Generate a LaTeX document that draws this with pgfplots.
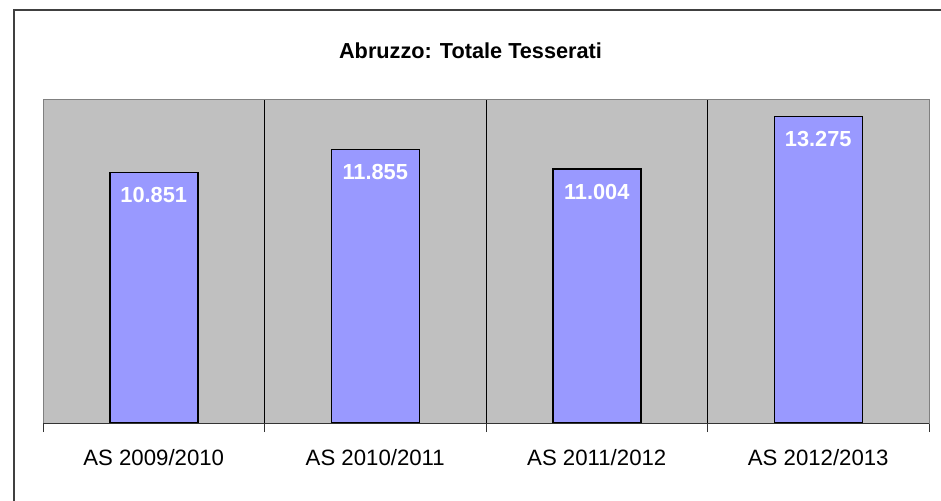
\documentclass[border=0pt]{standalone}
\usepackage{fontspec}
\setmainfont{Liberation Sans}
\usepackage{pgfplots}
\pgfplotsset{compat=1.18}
\definecolor{barblue}{HTML}{9999FF}
\definecolor{plotgray}{HTML}{C0C0C0}
\begin{document}
\begin{tikzpicture}[x=1pt,y=1pt]
\useasboundingbox (0,0) rectangle (941,500);
\draw[line width=1.3pt, black!75] (14,-5) -- (14,490) -- (946,490);
\node[font=\bfseries\fontsize{21.7}{24}\selectfont] at (470.5,449) {Abruzzo: Totale Tesserati};
\begin{axis}[
  at={(43pt,77pt)}, anchor=south west,
  scale only axis, width=886pt, height=323pt,
  xmin=-0.5, xmax=3.5, ymin=0, ymax=14000,
  axis background/.style={fill=plotgray},
  axis line style={draw=gray, line width=1pt},
  ytick=\empty,
  xtick={0,1,2,3},
  xticklabels={AS 2009/2010, AS 2010/2011, AS 2011/2012, AS 2012/2013},
  major tick length=0pt,
  minor xtick={-0.5,3.5},
  minor tick length=9pt,
  tick align=outside, xtick pos=bottom,
  tick style={black!80, line width=0.8pt},
  extra x ticks={0.5,1.5,2.5},
  extra x tick labels={},
  extra x tick style={major tick length=9pt, xmajorgrids=true, major grid style={black, line width=0.8pt}},
  xticklabel style={font=\fontsize{22.2}{24}\selectfont, inner sep=0pt, yshift=-26pt},
  ybar, bar width=88pt,
  point meta=explicit symbolic,
  nodes near coords,
  nodes near coords style={font=\bfseries\fontsize{21.8}{24}\selectfont, text=white, anchor=north, inner sep=0pt, yshift=-14pt},
]
\addplot[fill=barblue, draw=black, line width=1.5pt] coordinates {
  (0,10851) [10.851]
  (1,11855) [11.855]
  (2,11004) [11.004]
  (3,13275) [13.275]
};
\draw[black!80, line width=1pt] (rel axis cs:0,0) -- (rel axis cs:1,0);
\end{axis}
\end{tikzpicture}
\end{document}
